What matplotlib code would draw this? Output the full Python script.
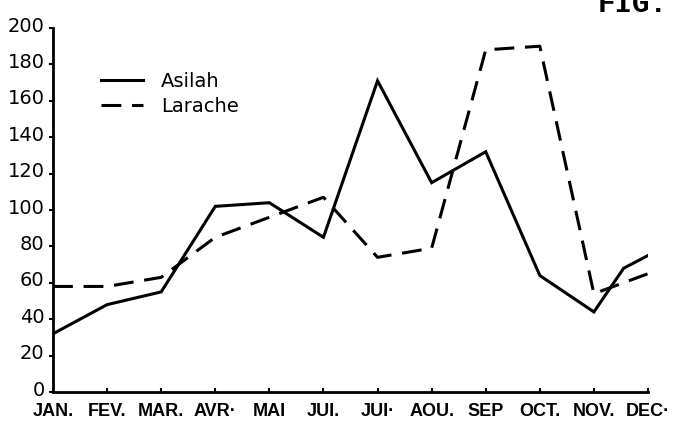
import matplotlib.pyplot as plt
import matplotlib.ticker as ticker
from matplotlib.transforms import ScaledTranslation

# Monthly values, Asilah and Larache
months = ["JAN.", "FEV.", "MAR.", "AVR·", "MAI", "JUI.", "JUI·",
          "AOU.", "SEP", "OCT.", "NOV.", "DEC·"]
month_pos = list(range(1, 13))

# Asilah has an extra bend between November and December
asilah_x = [1, 2, 3, 4, 5, 6, 7, 8, 9, 10, 11, 11.55, 12]
asilah = [32, 48, 55, 102, 104, 85, 171, 115, 132, 64, 44, 68, 75]

larache_x = month_pos
larache = [58, 58, 63, 85, 96, 107, 74, 79, 188, 190, 54, 65]

fig = plt.figure(figsize=(6.73, 4.21), dpi=100)
ax = fig.add_axes([53 / 673, 29 / 421, 595 / 673, 364 / 421])

ax.plot(asilah_x, asilah, color='black', lw=2.2, solid_joinstyle='miter',
        label="Asilah")
ax.plot(larache_x, larache, color='black', lw=2.2, dashes=(6.5, 3.5),
        label="Larache")

ax.set_xlim(1, 12)
ax.set_ylim(0, 200)

ax.spines['top'].set_visible(False)
ax.spines['right'].set_visible(False)
ax.spines['left'].set_linewidth(2)
ax.spines['bottom'].set_linewidth(2)

ax.yaxis.set_major_locator(ticker.MultipleLocator(20))
ax.set_xticks(month_pos)
ax.set_xticklabels(months, fontsize=13, fontweight='bold',
                   family=['Liberation Sans Narrow', 'Liberation Sans'])
ax.tick_params(axis='x', direction='in', length=3, width=1.5, pad=8)
ax.tick_params(axis='y', direction='out', length=3, width=1.5, pad=3,
               labelsize=14)
# y labels sit a little above their ticks
lift = ScaledTranslation(0, 4 / 100, fig.dpi_scale_trans)
for lbl in ax.get_yticklabels():
    lbl.set_transform(lbl.get_transform() + lift)

ax.legend(loc='upper left', bbox_to_anchor=(0.08, 0.88), frameon=False,
          fontsize=14, handlelength=2.2, handletextpad=0.9,
          labelspacing=0.3, borderpad=0, borderaxespad=0)

fig.text(598 / 673, 1 - 12 / 421, "FIG.", family='Liberation Mono',
         fontweight='bold', fontsize=21, va='baseline', ha='left')

plt.savefig("out.png", dpi=100)
